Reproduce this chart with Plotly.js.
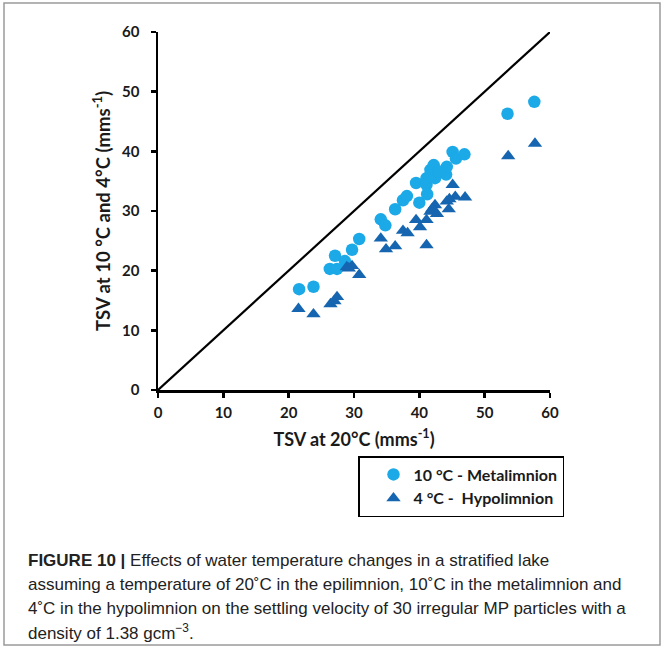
<!DOCTYPE html>
<html>
<head>
<meta charset="utf-8">
<script src="https://cdn.plot.ly/plotly-3.0.1.min.js"></script>
<style>html,body{margin:0;padding:0;background:#fff;}#chart{width:664px;height:648px;}</style>
</head>
<body>
<div id="chart"></div>
<script>
// ---- data ----
const metaX = [21.6, 23.8, 26.3, 27.4, 27.1, 28.6, 29.7, 30.8, 34.1, 34.8, 36.3, 37.5, 38.1, 39.5, 40.0, 41.1, 41.2, 41.1, 41.7, 42.2, 42.4, 41.6, 44.1, 44.2, 45.1, 45.6, 46.9, 53.5, 57.6, 43.0];
const metaY = [16.9, 17.3, 20.3, 20.3, 22.5, 21.6, 23.5, 25.3, 28.6, 27.6, 30.3, 31.8, 32.5, 34.7, 31.4, 34.4, 32.8, 35.5, 36.9, 37.7, 35.5, 35.9, 36.1, 37.4, 39.9, 38.8, 39.5, 46.3, 48.3, 36.6];
const hypoX = [21.5, 23.8, 26.4, 27.0, 27.4, 28.9, 29.7, 30.8, 34.1, 34.9, 36.3, 37.5, 38.2, 39.5, 40.1, 41.1, 41.1, 41.7, 42.4, 42.7, 44.2, 44.5, 45.1, 45.5, 47.0, 53.6, 57.7, 42.0, 44.6, 29.2];
const hypoY = [13.6, 12.7, 14.4, 14.9, 15.6, 20.6, 20.8, 19.3, 25.4, 23.6, 24.1, 26.7, 26.3, 28.5, 27.3, 28.5, 24.3, 29.9, 31.0, 29.5, 31.6, 30.3, 34.4, 32.4, 32.3, 39.2, 41.3, 30.4, 32.0, 20.4];
const identityX = [0, 60];
const identityY = [0, 60];
const seriesNames = ["10 °C - Metalimnion", "4 °C -  Hypolimnion"];
const tickVals = [0, 10, 20, 30, 40, 50, 60];
const xTitle = "TSV at 20°C (mms<sup>-1</sup>)";
const yTitle = "TSV at 10 °C and 4°C (mms<sup>-1</sup>)";
const captionLines = [
  "<b>FIGURE 10 |</b> Effects of water temperature changes in a stratified lake",
  "assuming a temperature of 20˚C in the epilimnion, 10˚C in the metalimnion and",
  "4˚C in the hypolimnion on the settling velocity of 30 irregular MP particles with a",
  "density of 1.38 gcm<sup>−3</sup>."
];

// ---- layout geometry (pixels) ----
const W = 664, H = 648;
const L = 158, R = 550, T = 32, B = 390;
const px2x = p => (p - L) / (R - L);
const px2y = p => (B - p) / (B - T);

const fam = "Lato, 'Liberation Sans', sans-serif";
const axisFont = {family: fam, size: 15, color: "#1a1a1a", weight: "bold"};

const traces = [
  {x: identityX, y: identityY, mode: "lines", line: {color: "#000", width: 2.2}, showlegend: false, hoverinfo: "skip"},
  {x: metaX, y: metaY, mode: "markers", name: seriesNames[0],
   marker: {symbol: "circle", size: 12.5, color: "#1ba9e8"}},
  {x: hypoX, y: hypoY, mode: "markers", name: seriesNames[1],
   marker: {symbol: "triangle-up", size: 12.5, color: "#1565b0"}}
];

const annotations = captionLines.map((t, i) => ({
  text: t, xref: "paper", yref: "paper", x: px2x(26), y: px2y(560 + i * 24),
  xanchor: "left", yanchor: "middle", showarrow: false, align: "left",
  font: {family: "'Liberation Sans Narrow', 'Arial Narrow', 'Liberation Sans', sans-serif", size: 17, color: "#222"}
}));

const layout = {
  width: W, height: H,
  margin: {l: L, r: W - R, t: T, b: H - B},
  paper_bgcolor: "#fff", plot_bgcolor: "#fff",
  showlegend: true,
  xaxis: {
    range: [0, 60], tickvals: tickVals, ticks: "outside", ticklen: 5, tickwidth: 2.5, tickcolor: "#000",
    showline: true, linecolor: "#000", linewidth: 2.5, showgrid: false, zeroline: false,
    tickfont: axisFont, fixedrange: true, ticklabelstandoff: 2,
    title: {text: xTitle, font: {family: fam, size: 18, color: "#1a1a1a", weight: "bold"}, standoff: 14}
  },
  yaxis: {
    range: [0, 60], tickvals: tickVals, ticks: "outside", ticklen: 5, tickwidth: 2.5, tickcolor: "#000",
    showline: true, linecolor: "#000", linewidth: 2.5, showgrid: false, zeroline: false,
    tickfont: axisFont, fixedrange: true, ticklabelstandoff: 8,
    title: {text: yTitle, font: {family: fam, size: 18.5, color: "#1a1a1a", weight: "bold"}, standoff: 7}
  },
  legend: {
    x: px2x(358), y: px2y(456), xanchor: "left", yanchor: "top",
    bordercolor: "#000", borderwidth: 1.5, bgcolor: "#fff",
    font: {family: fam, size: 16, color: "#1a1a1a", weight: "bold"},
    tracegroupgap: 0, itemwidth: 30, indentation: 14
  },
  shapes: [
    {type: "rect", xref: "paper", yref: "paper", x0: px2x(4), x1: px2x(660), y0: px2y(645), y1: px2y(3),
     line: {color: "#9a9a9a", width: 1.5}, fillcolor: "rgba(0,0,0,0)", layer: "below"}
  ],
  annotations: annotations
};

Plotly.newPlot("chart", traces, layout, {displayModeBar: false, staticPlot: true});
</script>
</body>
</html>
